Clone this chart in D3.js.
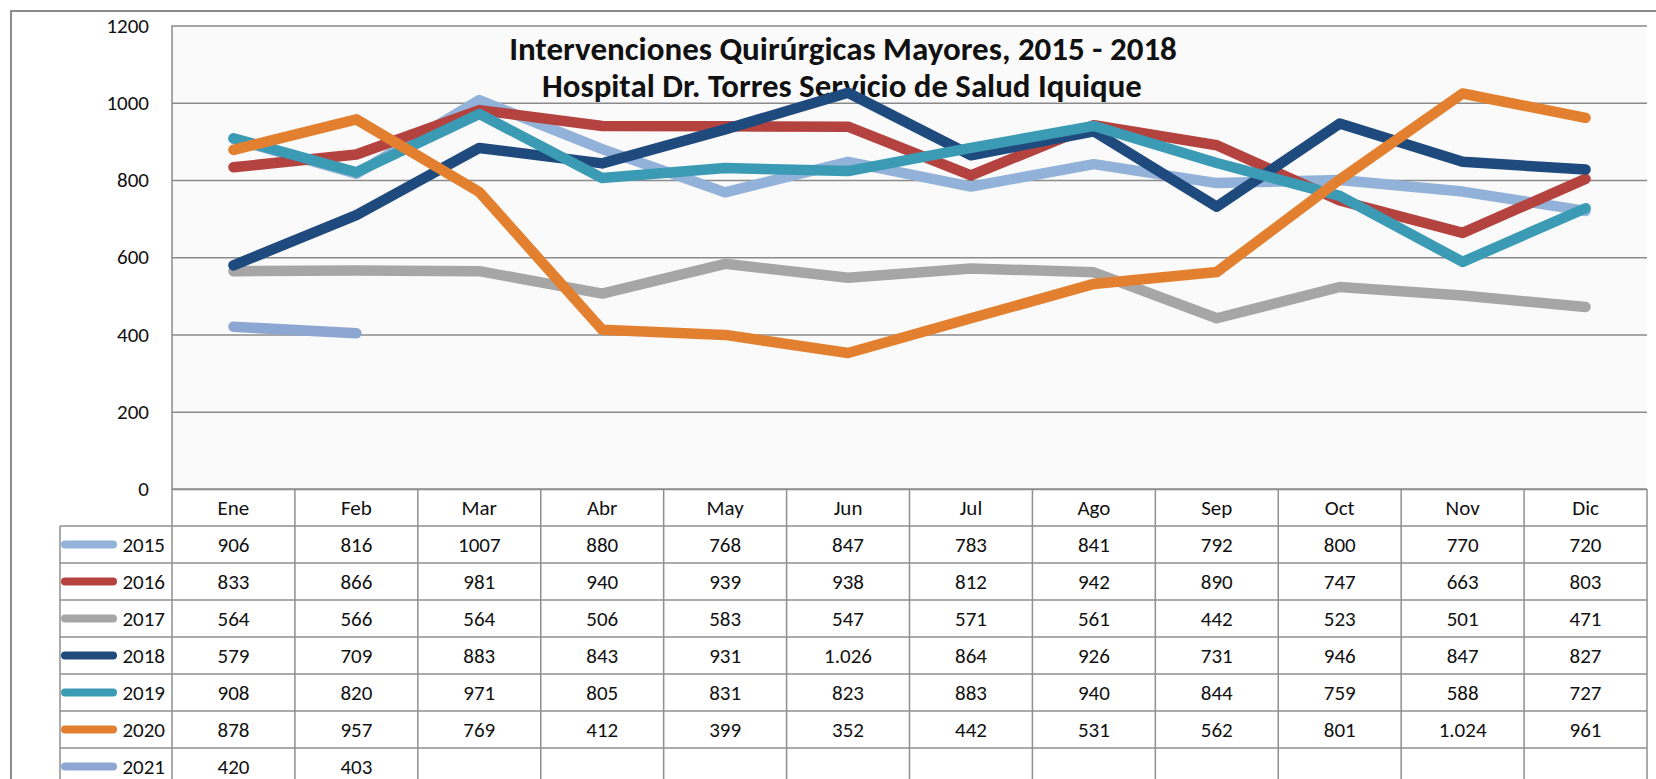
<!DOCTYPE html>
<html><head><meta charset="utf-8">
<script src="https://cdn.jsdelivr.net/npm/d3@7"></script>
<style>
html,body{margin:0;padding:0;background:#fff;}
svg{display:block;font-family:Carlito,Lato,"Open Sans",sans-serif;}
</style></head>
<body><svg id="chart" width="1656" height="779"></svg>
<script>
const months = ["Ene","Feb","Mar","Abr","May","Jun","Jul","Ago","Sep","Oct","Nov","Dic"];
const years = ["2015","2016","2017","2018","2019","2020","2021"];
const v2015 = [906,816,1007,880,768,847,783,841,792,800,770,720];
const v2016 = [833,866,981,940,939,938,812,942,890,747,663,803];
const v2017 = [564,566,564,506,583,547,571,561,442,523,501,471];
const v2018 = [579,709,883,843,931,1026,864,926,731,946,847,827];
const v2019 = [908,820,971,805,831,823,883,940,844,759,588,727];
const v2020 = [878,957,769,412,399,352,442,531,562,801,1024,961];
const v2021 = [420,403];
const colors = ["#92B2D9","#B4423F","#A6A6A6","#1E4A7E","#3C9BB4","#E2802F","#8CA7D1"];
const thousandsSep = [false,true,true,true,true,true,true];
const yTicks = [0,200,400,600,800,1000,1200];
const titleLines = ["Intervenciones Quirúrgicas Mayores, 2015 - 2018","Hospital Dr. Torres Servicio de Salud Iquique"];

const seriesValues = [v2015,v2016,v2017,v2018,v2019,v2020,v2021];
const series = years.map((y,i)=>({year:y, values:seriesValues[i], color:colors[i], sep:thousandsSep[i]}));

const svg = d3.select("#chart");
const plot = {left:172, right:1647, top:25.5, bottom:489};
const frameColor = "#8c8c8c";
const textColor = "#111";

// outer frame
svg.append("path").attr("d",`M11,779 L11,11 L1656,11`).attr("fill","none")
  .attr("stroke",frameColor).attr("stroke-width",2);

// plot background
svg.append("rect").attr("x",plot.left).attr("y",plot.top)
  .attr("width",plot.right-plot.left).attr("height",plot.bottom-plot.top).attr("fill","#fafafa");

const x = d3.scaleBand().domain(months).range([plot.left,plot.right]);
const y = d3.scaleLinear().domain([0,1200]).range([plot.bottom,plot.top]);

// gridlines
const grid = svg.append("g").attr("transform",`translate(${plot.left},0)`)
  .call(d3.axisLeft(y).tickValues(yTicks).tickSize(-(plot.right-plot.left)).tickFormat(""));
grid.select(".domain").remove();
grid.selectAll("line").attr("stroke","#8a8a8a").attr("stroke-width",1.5);

// y labels
const yAx = svg.append("g").attr("transform",`translate(149,0)`)
  .call(d3.axisLeft(y).tickValues(yTicks).tickSize(0).tickFormat(d3.format("d")));
yAx.select(".domain").remove();
yAx.selectAll("text").attr("font-size",21).attr("fill",textColor).attr("x",0)
  .attr("font-family","Carlito,Lato,sans-serif");

// plot left border
svg.append("line").attr("x1",plot.left).attr("x2",plot.left).attr("y1",plot.top).attr("y2",plot.bottom)
  .attr("stroke","#8a8a8a").attr("stroke-width",1.5);

// title
const title = svg.append("g");
const tl1 = title.append("text").attr("x",843).attr("y",60).attr("text-anchor","middle")
  .attr("font-weight","bold").attr("font-size",28).attr("fill","#111").text(titleLines[0]);
const tl2 = title.append("text").attr("x",842).attr("y",97).attr("text-anchor","middle")
  .attr("font-weight","bold").attr("font-size",28).attr("fill","#111").text(titleLines[1]);
[[tl1,668],[tl2,600]].forEach(([t,w])=>{
  const L = t.node().getComputedTextLength();
  t.attr("font-size",28*w/L);
});

// lines
const line = d3.line().x((d,i)=>x(months[i])+x.bandwidth()/2).y(d=>y(d));
svg.append("g").selectAll("path").data(series).join("path")
  .attr("d",d=>line(d.values)).attr("fill","none").attr("stroke",d=>d.color)
  .attr("stroke-width",10.5).attr("stroke-linecap","round").attr("stroke-linejoin","round");

// table
const tableTop = 489, headH = 37, rowH = 37, legLeft = 60;
const tg = svg.append("g");
const tableBottom = tableTop + headH + rowH*series.length;
const lc = "#8f8f8f";
tg.append("line").attr("x1",plot.left).attr("x2",plot.right).attr("y1",tableTop).attr("y2",tableTop)
  .attr("stroke",lc).attr("stroke-width",1.5);
for(let r=0;r<=series.length;r++){
  const yy = tableTop+headH+r*rowH;
  tg.append("line").attr("x1",legLeft).attr("x2",plot.right).attr("y1",yy).attr("y2",yy)
    .attr("stroke",lc).attr("stroke-width",1.5);
}
months.forEach((m,i)=>{
  const xx = x(m);
  tg.append("line").attr("x1",xx).attr("x2",xx).attr("y1",tableTop).attr("y2",tableBottom)
    .attr("stroke",lc).attr("stroke-width",1.5);
});
tg.append("line").attr("x1",plot.right).attr("x2",plot.right).attr("y1",tableTop).attr("y2",tableBottom)
  .attr("stroke",lc).attr("stroke-width",1.5);
tg.append("line").attr("x1",legLeft).attr("x2",legLeft).attr("y1",tableTop+headH).attr("y2",tableBottom)
  .attr("stroke",lc).attr("stroke-width",1.5);

tg.selectAll("text.hdr").data(months).join("text").attr("class","hdr")
  .attr("x",d=>x(d)+x.bandwidth()/2).attr("y",tableTop+headH/2).attr("dy","0.36em")
  .attr("text-anchor","middle").attr("font-size",21).attr("fill",textColor).text(d=>d);

const fmtSep = v => v>=1000 ? d3.format(",")(v).replace(/,/g,".") : String(v);
series.forEach((s,r)=>{
  const cy = tableTop+headH+r*rowH+rowH/2;
  tg.append("line").attr("x1",65).attr("x2",113).attr("y1",cy).attr("y2",cy)
    .attr("stroke",s.color).attr("stroke-width",8).attr("stroke-linecap","round");
  tg.append("text").attr("x",165).attr("y",cy).attr("dy","0.36em").attr("text-anchor","end")
    .attr("font-size",21).attr("fill",textColor).text(s.year);
  tg.selectAll(null).data(s.values).join("text")
    .attr("x",(d,i)=>x(months[i])+x.bandwidth()/2).attr("y",cy).attr("dy","0.36em")
    .attr("text-anchor","middle").attr("font-size",21).attr("fill",textColor)
    .text(d=>s.sep?fmtSep(d):String(d));
});
</script>
</body></html>
